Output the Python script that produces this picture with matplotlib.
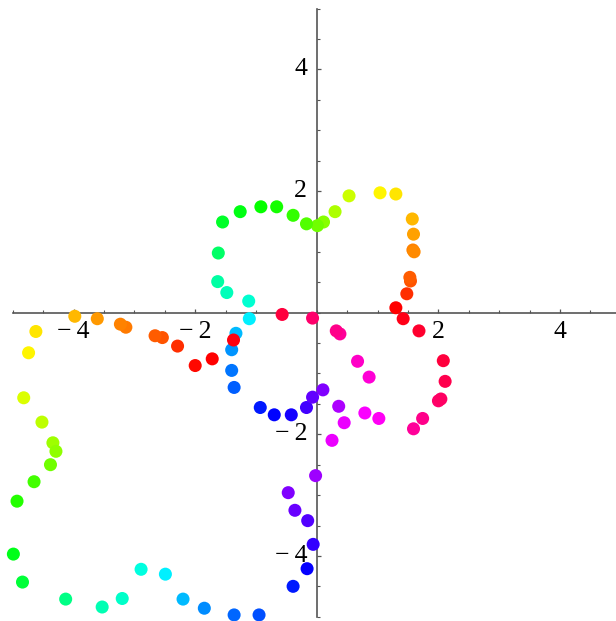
import numpy as np
import matplotlib
matplotlib.use("Agg")
import matplotlib.pyplot as plt
from matplotlib.colors import hsv_to_rgb
from matplotlib.ticker import MultipleLocator, FixedLocator, FuncFormatter
from matplotlib import font_manager

plt.rcParams["font.family"] = "serif"
plt.rcParams["font.serif"] = ["Liberation Serif", "Times New Roman", "DejaVu Serif"]
label_font = font_manager.FontProperties(family="Liberation Serif", size=18.5)

# Inner trajectory: x, y and hue of each point
inner_x = [1.30, 1.48, 1.54, 1.53, 1.58, 1.60, 1.59, 1.57, 1.30, 1.04,
           0.53, 0.30, 0.11, 0.01, -0.17, -0.39, -0.66, -0.92, -1.26, -1.55,
           -1.62, -1.63, -1.48, -1.12, -1.11, -1.33, -1.40, -1.40, -1.36, -0.93,
           -0.70, -0.42, -0.17, -0.07, 0.10, 0.36, 0.45, 0.79, 1.02, 0.86,
           0.67, 0.38, 0.32, -0.07, -0.57, -1.37]
inner_y = [0.08, 0.31, 0.52, 0.58, 1.03, 1.00, 1.29, 1.54, 1.95, 1.97,
           1.92, 1.66, 1.49, 1.43, 1.46, 1.60, 1.74, 1.74, 1.66, 1.49,
           0.98, 0.51, 0.33, 0.19, -0.10, -0.34, -0.61, -0.95, -1.23, -1.56,
           -1.68, -1.68, -1.56, -1.39, -1.27, -1.54, -1.81, -1.65, -1.74, -1.06,
           -0.80, -0.35, -0.30, -0.09, -0.03, -0.45]
inner_hue = [0.00, 0.03, 0.055, 0.06, 0.085, 0.09, 0.105, 0.12, 0.15, 0.16,
             0.20, 0.22, 0.245, 0.26, 0.28, 0.30, 0.32, 0.33, 0.345, 0.36,
             0.40, 0.44, 0.455, 0.47, 0.51, 0.545, 0.57, 0.59, 0.605, 0.65,
             0.665, 0.68, 0.71, 0.73, 0.75, 0.78, 0.82, 0.83, 0.84, 0.86,
             0.87, 0.90, 0.91, 0.93, 0.96, 0.99]

# Outer trajectory: x, y and hue of each point
outer_x = [-2.00, -1.72, -2.29, -2.54, -2.66, -3.14, -3.23, -3.61, -3.98, -4.62,
           -4.74, -4.82, -4.52, -4.34, -4.29, -4.38, -4.65, -4.93, -4.99, -4.84,
           -4.13, -3.53, -3.20, -2.89, -2.49, -2.20, -1.85, -1.36, -0.95, -0.39,
           -0.16, -0.06, -0.15, -0.36, -0.47, -0.02, 0.25, 1.59, 1.74, 2.00,
           2.04, 2.11, 2.08, 1.68, 1.42]
outer_y = [-0.87, -0.76, -0.55, -0.41, -0.38, -0.24, -0.19, -0.10, -0.06, -0.31,
           -0.66, -1.40, -1.80, -2.14, -2.28, -2.50, -2.78, -3.10, -3.97, -4.43,
           -4.71, -4.84, -4.70, -4.22, -4.30, -4.71, -4.86, -4.97, -4.97, -4.50,
           -4.21, -3.81, -3.42, -3.25, -2.96, -2.68, -2.10, -1.91, -1.74, -1.45,
           -1.42, -1.13, -0.79, -0.30, -0.10]
outer_hue = [0.005, 0.00, 0.03, 0.055, 0.06, 0.08, 0.085, 0.10, 0.12, 0.15,
             0.16, 0.19, 0.21, 0.23, 0.24, 0.26, 0.29, 0.31, 0.35, 0.37,
             0.42, 0.45, 0.465, 0.48, 0.51, 0.545, 0.575, 0.60, 0.615, 0.65,
             0.67, 0.70, 0.72, 0.735, 0.75, 0.77, 0.82, 0.90, 0.91, 0.93,
             0.935, 0.95, 0.96, 0.97, 0.985]

major_ticks = [-4, -2, 2, 4]


def hue_colors(h):
    h = np.asarray(h, dtype=float)
    hsv = np.stack([h % 1.0, np.ones_like(h), np.ones_like(h)], axis=1)
    return hsv_to_rgb(hsv)


fig = plt.figure(figsize=(6.16, 6.21), dpi=100)
ax = fig.add_axes([0, 0, 1, 1])
ax.set_xlim(-5.21, 4.92)
ax.set_ylim(-5.07, 5.14)

for xs, ys, hs in ((inner_x, inner_y, inner_hue), (outer_x, outer_y, outer_hue)):
    ax.scatter(xs, ys, c=hue_colors(hs), s=88, edgecolors="none", zorder=3)

axis_color = "#555555"
for side in ("top", "right"):
    ax.spines[side].set_visible(False)
for side in ("left", "bottom"):
    sp = ax.spines[side]
    sp.set_position("zero")
    sp.set_color(axis_color)
    sp.set_linewidth(1.2)
    sp.set_bounds(-5.0, 5.0)

ax.xaxis.set_major_locator(FixedLocator(major_ticks))
ax.yaxis.set_major_locator(FixedLocator(major_ticks))
ax.xaxis.set_minor_locator(MultipleLocator(0.5))
ax.yaxis.set_minor_locator(MultipleLocator(0.5))
ax.xaxis.set_major_formatter(FuncFormatter(lambda v, p: ""))
ax.yaxis.set_major_formatter(FuncFormatter(lambda v, p: ""))

ax.tick_params(which="major", direction="in", length=3.2, width=0.9,
               color=axis_color)
ax.tick_params(which="minor", direction="in", length=2.0, width=0.8,
               color=axis_color)


def tick_text(v):
    return ("\u2212\u2009" + str(abs(v))) if v < 0 else str(v)


# Tick labels placed next to the axes that cross at the origin
for v in major_ticks:
    ax.annotate(tick_text(v), xy=(v, 0), xytext=(0, -6), textcoords="offset points",
                ha="center", va="top", fontproperties=label_font)
    ax.annotate(tick_text(v), xy=(0, v), xytext=(-7, 0), textcoords="offset points",
                ha="right", va="center", fontproperties=label_font)

fig.savefig("out.png", dpi=100, facecolor="white")
